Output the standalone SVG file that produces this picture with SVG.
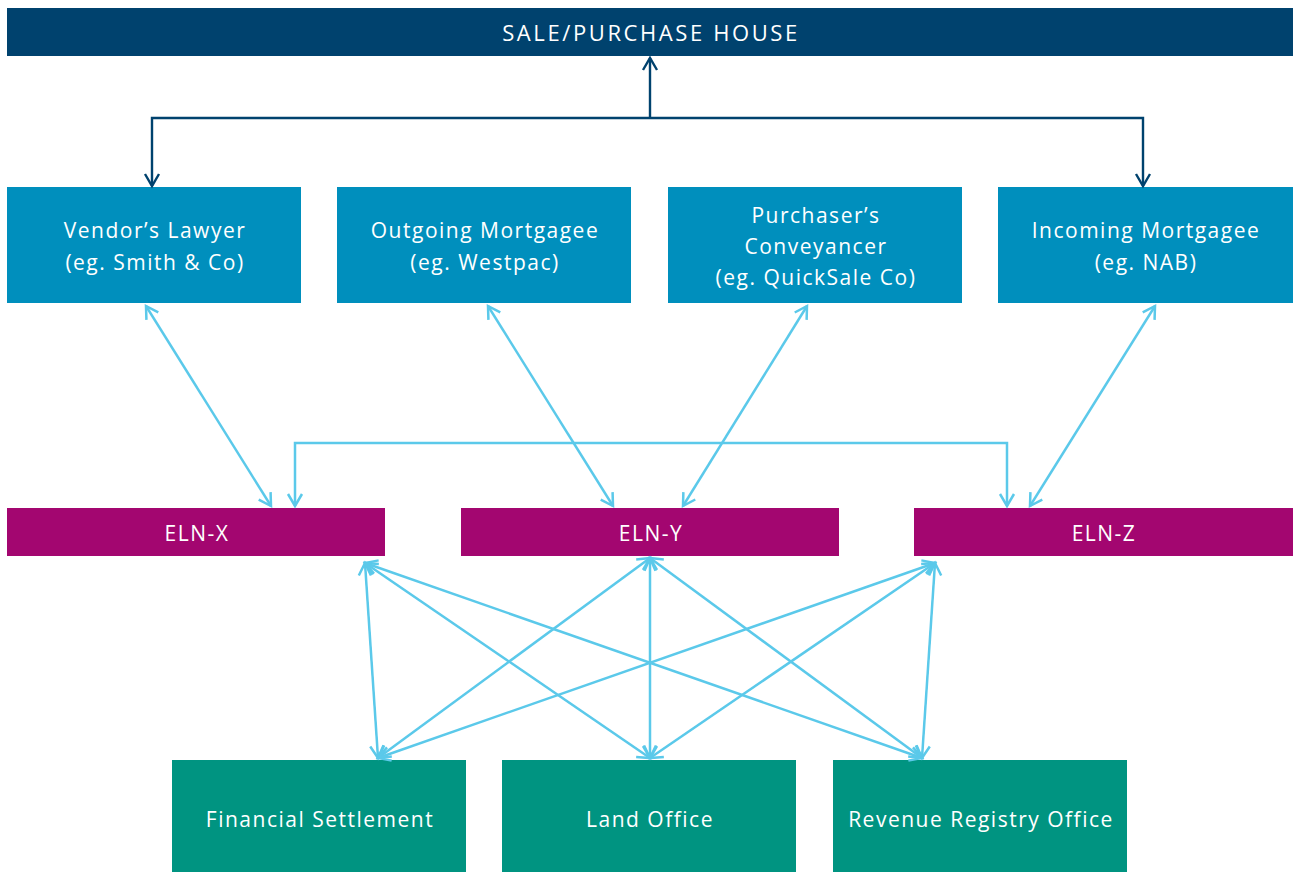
<svg xmlns="http://www.w3.org/2000/svg" width="1293" height="872" viewBox="0 0 1293 872">
<defs>
<style>
.t{font-family:"Open Sans","Liberation Sans",sans-serif;font-size:21px;letter-spacing:1.5px;fill:#ffffff;text-anchor:middle}
.h{font-size:22px;letter-spacing:2.6px}
.dk{fill:#00426E}
.bl{fill:#008FBD}
.el{fill:#A30670}
.gr{fill:#009481}
.c1{fill:none;stroke:#00426E;stroke-width:2.4}
.c2{fill:none;stroke:#5BC9EA;stroke-width:2.5}
</style>
<marker id="ad" markerUnits="userSpaceOnUse" markerWidth="20" markerHeight="20" viewBox="-15 -10 18 20" refX="0" refY="0" orient="auto-start-reverse">
<path d="M-12,-7 L0,0 L-12,7" fill="none" stroke="#00426E" stroke-width="2.4"/>
</marker>
<marker id="al" markerUnits="userSpaceOnUse" markerWidth="20" markerHeight="20" viewBox="-15 -10 18 20" refX="0" refY="0" orient="auto-start-reverse">
<path d="M-12,-7 L0,0 L-12,7" fill="none" stroke="#5BC9EA" stroke-width="2.5"/>
</marker>
</defs>
<rect width="1293" height="872" fill="#ffffff"/>
<g id="sale-purchase-house"><rect class="dk" x="7" y="8" width="1286" height="48"/><text class="t h" x="651" y="41">SALE/PURCHASE HOUSE</text></g>
<g id="vendors-lawyer"><rect class="bl" x="7" y="187" width="294" height="116"/><text class="t" x="155" y="238">Vendor’s Lawyer</text><text class="t" x="155" y="270">(eg. Smith &amp; Co)</text></g>
<g id="outgoing-mortgagee"><rect class="bl" x="337" y="187" width="294" height="116"/><text class="t" x="485" y="238">Outgoing Mortgagee</text><text class="t" x="485" y="270">(eg. Westpac)</text></g>
<g id="purchasers-conveyancer"><rect class="bl" x="668" y="187" width="294" height="116"/><text class="t" x="816" y="223">Purchaser’s</text><text class="t" x="816" y="254">Conveyancer</text><text class="t" x="816" y="285">(eg. QuickSale Co)</text></g>
<g id="incoming-mortgagee"><rect class="bl" x="998" y="187" width="295" height="116"/><text class="t" x="1146" y="238">Incoming Mortgagee</text><text class="t" x="1146" y="270">(eg. NAB)</text></g>
<g id="eln-x"><rect class="el" x="7" y="508" width="378" height="48"/><text class="t" x="197" y="541">ELN-X</text></g>
<g id="eln-y"><rect class="el" x="461" y="508" width="378" height="48"/><text class="t" x="651" y="541">ELN-Y</text></g>
<g id="eln-z"><rect class="el" x="914" y="508" width="379" height="48"/><text class="t" x="1104" y="541">ELN-Z</text></g>
<g id="financial-settlement"><rect class="gr" x="172" y="760" width="294" height="112"/><text class="t" x="320" y="827">Financial Settlement</text></g>
<g id="land-office"><rect class="gr" x="502" y="760" width="294" height="112"/><text class="t" x="650" y="827">Land Office</text></g>
<g id="revenue-registry-office"><rect class="gr" x="833" y="760" width="294" height="112"/><text class="t" x="981" y="827">Revenue Registry Office</text></g>
<g id="connectors">
<path class="c1" d="M650,118 L650,58" marker-end="url(#ad)"/>
<path class="c1" d="M152,186 L152,118 L1143,118 L1143,186" marker-start="url(#ad)" marker-end="url(#ad)"/>
<path class="c2" d="M146,306 L271,506" marker-start="url(#al)" marker-end="url(#al)"/>
<path class="c2" d="M488,306 L613,506" marker-start="url(#al)" marker-end="url(#al)"/>
<path class="c2" d="M807,306 L683,506" marker-start="url(#al)" marker-end="url(#al)"/>
<path class="c2" d="M1155,306 L1030,506" marker-start="url(#al)" marker-end="url(#al)"/>
<path class="c2" d="M295,506 L295,443 L1007,443 L1007,506" marker-start="url(#al)" marker-end="url(#al)"/>
<path class="c2" d="M365,563 L378,758" marker-start="url(#al)" marker-end="url(#al)"/>
<path class="c2" d="M365,563 L650,758" marker-start="url(#al)" marker-end="url(#al)"/>
<path class="c2" d="M365,563 L922,758" marker-start="url(#al)" marker-end="url(#al)"/>
<path class="c2" d="M650,558 L378,758" marker-start="url(#al)" marker-end="url(#al)"/>
<path class="c2" d="M650,558 L650,758" marker-start="url(#al)" marker-end="url(#al)"/>
<path class="c2" d="M650,558 L922,758" marker-start="url(#al)" marker-end="url(#al)"/>
<path class="c2" d="M935,563 L378,758" marker-start="url(#al)" marker-end="url(#al)"/>
<path class="c2" d="M935,563 L650,758" marker-start="url(#al)" marker-end="url(#al)"/>
<path class="c2" d="M935,563 L922,758" marker-start="url(#al)" marker-end="url(#al)"/>
</g>
</svg>
